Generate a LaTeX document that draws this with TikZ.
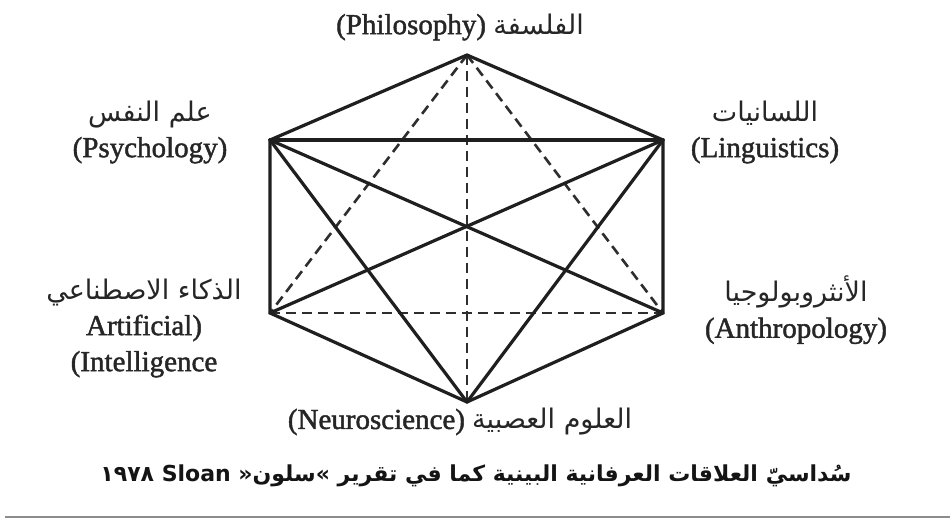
\documentclass[tikz,border=0pt]{standalone}
\usepackage{fontspec}
\setmainfont{Liberation Serif}
\newfontfamily\lblfont[FakeBold=1.5]{Liberation Serif}
\newfontfamily\arabicfont[Script=Arabic]{DejaVu Sans}
\TeXXeTstate=1
\newcommand\arlbl[1]{{\fontsize{27}{30}\selectfont\arabicfont\beginR #1\endR}}
\begin{document}
\begin{tikzpicture}[x=1pt,y=-1pt,
  solidedge/.style={line width=3.2pt, draw=black!88, line cap=round},
  dashededge/.style={line width=2.6pt, draw=black!82, dash pattern=on 10pt off 6pt},
  lbl/.style={font=\fontsize{29}{36}\selectfont\lblfont, text=black!85, align=center, inner sep=0pt},
  caption/.style={font=\fontsize{22}{26}\selectfont\bfseries, text=black!92, inner sep=0pt}]
\path[fill=white] (0,0) rectangle (950,520);
\useasboundingbox (0,0) rectangle (950,520);
% vertices
\coordinate (P) at (467,55);
\coordinate (Psy) at (270,140);
\coordinate (Lin) at (663,140);
\coordinate (AI) at (270,313);
\coordinate (Ant) at (663,313);
\coordinate (N) at (467,402);
% dashed edges
\draw[dashededge] (P) -- (AI);
\draw[dashededge] (P) -- (Ant);
\draw[dashededge] (P) -- (N);
\draw[dashededge] (AI) -- (Ant);
% solid edges
\draw[solidedge, line join=miter] (Psy) -- (P) -- (Lin) -- (Ant) -- (N) -- (AI) -- cycle;
\draw[solidedge] (Psy) -- (Lin);
\draw[solidedge] (Psy) -- (N);
\draw[solidedge] (Lin) -- (N);
\draw[solidedge] (Psy) -- (Ant);
\draw[solidedge] (Lin) -- (AI);
% labels
\node[lbl] (lP) at (460,27) {(Philosophy) \arlbl{الفلسفة}};
\node[lbl] (lPsy) at (150,132) {\arlbl{علم النفس}\\(Psychology)};
\node[lbl] (lLin) at (765,132) {\arlbl{اللسانيات}\\(Linguistics)};
\node[lbl] (lAI) at (144,328) {\arlbl{الذكاء الاصطناعي}\\Artificial)\\(Intelligence};
\node[lbl] (lAnt) at (796,310) {\arlbl{الأنثروبولوجيا}\\(Anthropology)};
\node[lbl] (lN) at (460,422) {(Neuroscience) \arlbl{العلوم العصبية}};
\node[caption] (cap) at (476,476) {\arabicfont\beginR سُداسيّ العلاقات العرفانية البينية كما في تقرير »سلون« \beginL Sloan\endL{} \beginL ١٩٧٨\endL\endR};
% bottom rule
\coordinate (r1) at (5,517);
\coordinate (r2) at (950,517);
\draw[line width=2pt, draw=black!45] (r1) -- (r2);
\end{tikzpicture}
\end{document}
